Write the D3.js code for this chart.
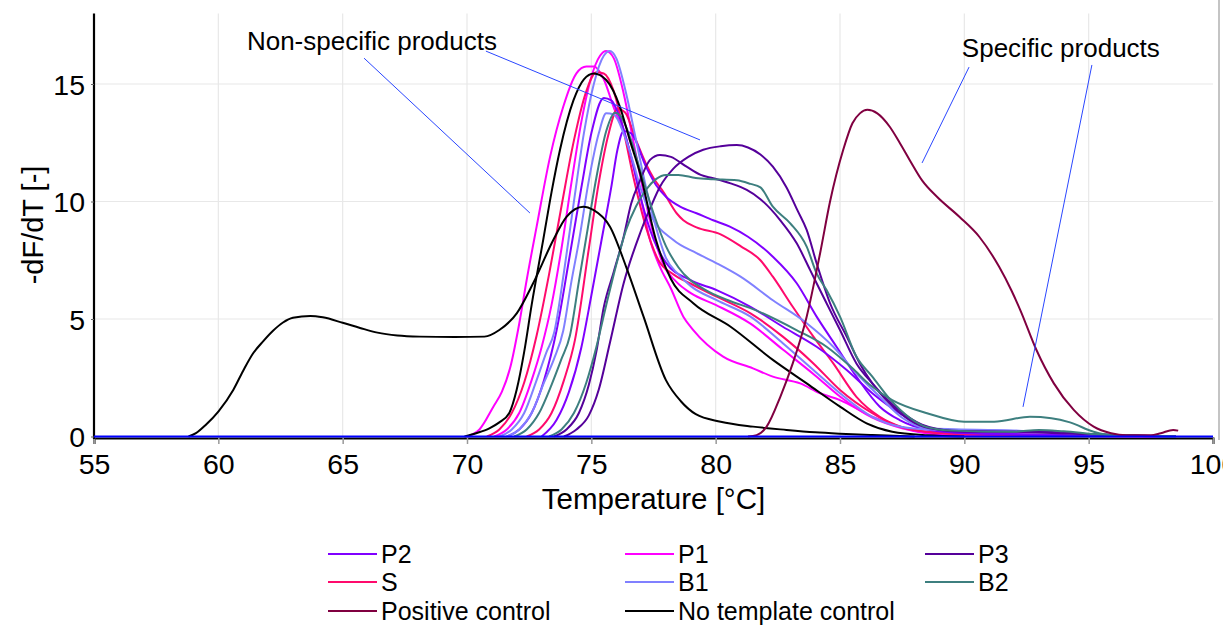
<!DOCTYPE html>
<html><head><meta charset="utf-8">
<script src="https://cdn.jsdelivr.net/npm/d3@7"></script>
<style>
body{margin:0;background:#fff;overflow:hidden;}
text{font-family:Arial,"Liberation Sans",sans-serif;fill:#000;}
</style></head><body>
<svg id="chart" width="1223" height="626"></svg>
<script>
// ---------- data ----------
const xTicks = [55,60,65,70,75,80,85,90,95,100];
const yTicks = [0,5,10,15];
const xTitle = "Temperature [°C]";
const yTitle = "-dF/dT [-]";

const legendLabels = ["P2","P1","P3","S","B1","B2","Positive control","No template control"];
const legendColors = ["#8000ff","#ff00ff","#55009a","#ff0a6c","#8080ff","#3d7f7f","#800040","#000000"];

// runs: [temperature °C, -dF/dT]
const P1_run1 = [[70.0,0],[70.5,0.3],[71.06,1.27],[71.4,1.9],[71.73,2.9],[72.1,4.8],[72.4,6.66],[72.8,8.93],[73.34,11.9],[73.87,14.03],[74.4,15.45],[74.8,15.74],[75.1,15.74],[75.5,15.2],[75.9,14.0],[76.42,12.6],[76.96,10.3],[77.36,8.36],[77.76,7.22],[78.2,6.3],[78.7,5.1],[79.1,4.53],[80.3,3.4],[81.5,2.9],[82.3,2.55],[83.4,2.26],[84.2,1.84],[85.0,1.55],[86.3,0.84],[87.4,0.42],[88.5,0.15],[90,0.05],[98.5,0]];
const P1_run2 = [[71.1,0],[71.6,0.3],[72.1,1.0],[72.6,2.4],[73.0,3.8],[73.4,5.6],[73.8,8.0],[74.2,10.8],[74.6,13.4],[75.0,15.3],[75.35,16.2],[75.6,16.4],[75.9,16.1],[76.3,14.6],[76.7,12.5],[77.1,10.4],[77.5,8.6],[77.9,7.3],[78.4,6.6],[79.0,6.1],[80.0,5.6],[81.4,4.8],[82.7,3.7],[84.0,2.6],[85.0,1.7],[86.3,0.8],[87.5,0.35],[89,0.1],[98.5,0]];
const S_run1 = [[70.8,0],[71.3,0.3],[71.8,1.0],[72.3,2.3],[72.8,4.3],[73.3,6.9],[73.8,9.8],[74.3,12.6],[74.8,14.7],[75.2,15.5],[75.5,15.45],[75.9,14.7],[76.3,13.0],[76.7,11.0],[77.2,8.9],[77.7,7.5],[78.3,6.9],[79.0,6.5],[80.04,5.95],[81.4,5.24],[82.7,4.25],[83.93,3.11],[85.0,1.98],[86.3,0.99],[87.3,0.45],[88.5,0.2],[90,0.1],[95,0.05],[98.5,0]];
const S_run2 = [[72.4,0],[72.9,0.3],[73.4,1.0],[73.9,2.4],[74.34,4.1],[74.9,8.0],[75.3,10.8],[75.7,12.9],[76.05,13.95],[76.35,13.8],[76.8,12.6],[77.2,11.6],[77.5,11.0],[77.9,10.4],[78.43,9.5],[78.7,9.2],[79.23,8.9],[80.2,8.6],[81.0,8.1],[81.8,7.5],[82.3,6.8],[83.1,5.52],[83.93,4.25],[84.73,3.11],[85.66,1.69],[86.6,0.84],[87.5,0.4],[88.5,0.2],[90,0.1],[95,0.05],[98.5,0]];
const P2_run1 = [[71.6,0],[72.1,0.3],[72.6,1.0],[73.1,2.4],[73.6,4.5],[74.1,7.5],[74.6,10.6],[75.0,12.9],[75.5,14.4],[75.8,14.3],[76.2,13.4],[76.6,11.9],[77.0,10.1],[77.5,8.4],[78.0,7.4],[78.97,6.66],[80.04,6.23],[81.4,5.52],[82.7,4.67],[84.06,3.82],[85.27,2.83],[86.3,1.84],[87.4,0.99],[88.5,0.4],[90,0.15],[95,0.05],[98.5,0]];
const P2_run2 = [[73.0,0],[73.6,0.7],[74.1,1.9],[74.6,3.8],[75.0,6.0],[75.4,8.3],[75.8,10.6],[76.05,12.2],[76.3,13.0],[76.6,12.9],[77.2,11.48],[77.6,10.7],[78.0,10.2],[78.57,9.78],[79.23,9.5],[79.9,9.2],[80.57,8.93],[81.3,8.5],[82.3,7.65],[83.26,6.52],[84.06,5.1],[84.86,3.82],[85.66,2.55],[86.6,1.27],[87.4,0.7],[88.5,0.3],[90,0.15],[95,0.05],[98.5,0]];
const B1_run1 = [[71.3,0],[71.8,0.3],[72.3,1.0],[72.8,2.4],[73.2,3.6],[73.5,4.4],[73.9,7.0],[74.3,10.0],[74.7,12.9],[75.1,15.0],[75.5,16.2],[75.75,16.4],[76.0,16.1],[76.4,14.6],[76.8,12.6],[77.2,10.6],[77.6,8.9],[78.0,7.6],[78.5,6.9],[79.0,6.4],[80.04,5.8],[81.4,5.1],[82.7,3.97],[83.93,2.83],[85.0,1.84],[86.3,0.84],[87.5,0.4],[88.5,0.3],[92,0.25],[95,0.1],[98.5,0]];
const B1_run2 = [[71.6,0],[72.1,0.3],[72.6,1.0],[73.1,2.3],[73.5,3.3],[73.87,4.5],[74.2,6.6],[74.5,8.3],[74.9,10.9],[75.3,12.9],[75.6,13.75],[75.9,13.7],[76.3,12.9],[76.7,11.6],[77.0,10.5],[77.36,9.5],[78.3,8.36],[79.23,7.8],[80.04,7.37],[81.0,6.8],[82.3,5.8],[83.66,4.82],[84.73,3.82],[85.66,2.69],[86.6,1.69],[87.5,0.8],[88.5,0.35],[92,0.25],[95,0.1],[98.5,0]];
const P3_run1 = [[73.5,0],[74.0,0.3],[74.5,1.0],[74.9,2.2],[75.2,3.6],[75.5,5.5],[75.9,7.0],[76.3,8.5],[76.6,9.9],[76.96,10.9],[77.36,11.77],[77.76,11.98],[78.2,11.9],[78.83,11.48],[79.4,11.13],[79.9,10.99],[80.6,10.77],[81.25,10.49],[81.8,10.1],[82.6,9.2],[83.26,8.22],[83.8,7.08],[84.46,5.67],[85.0,4.53],[85.66,3.11],[86.3,2.26],[87.4,1.1],[88.3,0.5],[89.5,0.25],[92,0.2],[95,0.1],[98.5,0]];
const P3_run2 = [[73.9,0],[74.4,0.3],[74.9,0.9],[75.3,2.0],[75.75,4.0],[76.3,6.52],[76.96,8.65],[77.4,9.8],[77.76,10.63],[78.3,11.4],[78.9,11.9],[79.5,12.2],[80.2,12.35],[80.85,12.4],[81.3,12.3],[81.8,12.0],[82.3,11.48],[82.85,10.6],[83.3,9.6],[83.66,8.79],[84.06,7.37],[84.6,5.67],[85.27,4.25],[85.8,3.1],[86.3,2.26],[87.0,1.4],[87.8,0.7],[88.6,0.35],[90,0.2],[93,0.2],[95,0.1],[98.5,0]];
const B2_run1 = [[71.9,0],[72.4,0.3],[72.9,1.0],[73.4,2.2],[73.8,3.3],[74.14,4.3],[74.5,6.6],[74.8,8.5],[75.2,11.0],[75.6,13.0],[75.95,13.78],[76.2,13.6],[76.6,12.6],[77.0,11.2],[77.5,9.5],[78.0,8.1],[78.5,7.2],[79.6,6.23],[80.5,5.8],[81.6,5.38],[83.25,4.53],[84.46,3.82],[85.5,2.9],[86.2,2.2],[87.1,1.55],[88.5,0.99],[90.0,0.63],[91.2,0.63],[92.64,0.84],[93.5,0.78],[94.25,0.6],[95.2,0.2],[95.9,0.05],[98.5,0]];
const B2_run2 = [[73.3,0],[73.8,0.3],[74.3,1.0],[74.8,2.3],[75.2,3.8],[75.6,5.6],[76.0,7.3],[76.4,8.8],[76.8,9.8],[77.2,10.5],[77.6,10.95],[78.0,11.13],[78.5,11.13],[79.2,11.0],[79.9,10.95],[80.85,10.9],[81.4,10.75],[81.8,10.6],[82.3,9.78],[83.0,9.07],[83.66,8.08],[84.06,6.94],[84.46,6.23],[85.0,5.1],[85.66,3.4],[86.3,2.55],[87.0,1.6],[87.8,0.8],[88.5,0.4],[89.5,0.25],[92,0.2],[93,0.28],[94,0.22],[95.5,0.08],[98.5,0]];
const PC_run1 = [[81.3,0],[81.65,0.06],[82.05,0.42],[82.6,1.69],[83.1,3.11],[83.66,5.1],[84.2,7.8],[84.6,10.0],[85.13,12.2],[85.5,13.33],[85.8,13.75],[86.1,13.9],[86.5,13.75],[87.0,13.18],[87.4,12.5],[87.8,11.77],[88.3,10.9],[88.9,10.2],[89.8,9.35],[90.6,8.5],[91.4,7.22],[91.9,6.2],[92.25,5.38],[92.9,3.68],[93.6,2.26],[94.4,1.13],[95.2,0.42],[95.9,0.14],[96.5,0.05],[97.5,0.05],[97.9,0.14],[98.4,0.28],[98.6,0.25]];
const NTC_run1 = [[58.8,0],[59.1,0.14],[59.5,0.5],[60.0,1.06],[60.6,1.98],[61.0,2.8],[61.4,3.54],[61.8,4.05],[62.2,4.5],[62.6,4.85],[63.0,5.05],[63.7,5.13],[64.2,5.07],[65.0,4.84],[65.7,4.62],[66.4,4.42],[67.2,4.3],[68.1,4.25],[69.5,4.23],[70.7,4.25],[71.3,4.53],[72.0,5.24],[72.66,6.52],[73.47,8.36],[74.0,9.35],[74.68,9.78],[75.08,9.64],[75.75,8.93],[76.4,7.22],[77.1,5.1],[78.0,2.4],[78.6,1.5],[79.2,0.95],[80.2,0.63],[81.5,0.42],[82.85,0.28],[84,0.18],[85,0.12],[86.3,0.06],[88,0]];
const NTC_run2 = [[69.9,0],[70.4,0.15],[70.9,0.35],[71.3,0.6],[71.7,1.0],[72.0,2.0],[72.3,3.6],[72.6,5.6],[73.07,8.4],[73.4,10.4],[73.74,12.2],[74.28,14.3],[74.7,15.2],[75.1,15.45],[75.6,15.17],[76.15,14.03],[76.55,12.6],[76.96,11.2],[77.6,8.36],[78.2,6.7],[79.1,5.67],[80.6,4.67],[82.3,3.26],[83.66,2.26],[85.0,1.27],[86.07,0.56],[87.1,0.2],[88.5,0.05],[90,0]];
const baselineRun = [[55,0],[100,0]];

// annotations (data coordinates)
const annotTexts = [
  {text:"Non-specific products", T:61.15, v:16.45},
  {text:"Specific products", T:89.9, v:16.15}
];
const annotLines = [
  [[65.86,16.1],[72.53,9.51]],
  [[70.76,16.4],[79.37,12.62]],
  [[90.19,15.72],[88.30,11.64]],
  [[95.13,15.81],[92.36,1.26]]
];

// series -> runs (drawing order)
const seriesRuns = [
  {label:"P1", runs:[P1_run1,P1_run2]},
  {label:"S", runs:[S_run1,S_run2]},
  {label:"P2", runs:[P2_run1,P2_run2]},
  {label:"B1", runs:[B1_run1,B1_run2]},
  {label:"P3", runs:[P3_run1,P3_run2]},
  {label:"B2", runs:[B2_run1,B2_run2]},
  {label:"No template control", runs:[NTC_run1,NTC_run2]},
  {label:"Positive control", runs:[PC_run1]}
];

// ---------- drawing ----------
const svg = d3.select("#chart");
const colorOf = d3.scaleOrdinal(legendLabels, legendColors);
const x = d3.scaleLinear([55,100],[94,1213]);
const y = d3.scaleLinear([0,18],[436.5,13.5]);

// frame line on right
svg.append("line").attr("x1",1219).attr("x2",1219).attr("y1",0).attr("y2",440)
  .attr("stroke","#c4c4c4").attr("stroke-width",2);

// grid
const grid = svg.append("g");
grid.selectAll(".gx").data(xTicks.filter(d=>d>55 && d<100)).join("line")
  .attr("x1",d=>x(d)).attr("x2",d=>x(d)).attr("y1",y(18)).attr("y2",y(0))
  .attr("stroke","#e8e8e8").attr("stroke-width",1.2);
grid.selectAll(".gy").data(yTicks.filter(d=>d>0)).join("line")
  .attr("x1",x(55)).attr("x2",x(100)).attr("y1",d=>y(d)).attr("y2",d=>y(d))
  .attr("stroke","#e8e8e8").attr("stroke-width",1.2);

// x axis
const xAxis = svg.append("g").attr("transform",`translate(0,${y(0)+1.5})`)
  .call(d3.axisBottom(x).tickValues(xTicks).tickSize(6).tickPadding(10).tickFormat(d3.format("d")));
xAxis.select(".domain").attr("stroke","#000").attr("stroke-width",2);
xAxis.selectAll(".tick line").attr("stroke","#999").attr("stroke-width",1.5);
xAxis.selectAll(".tick text").attr("font-size",28.5).attr("font-family","Arial, 'Liberation Sans', sans-serif").attr("fill","#000").attr("dy","0.71em");

// y axis
const yAxis = svg.append("g").attr("transform",`translate(${x(55)},0)`)
  .call(d3.axisLeft(y).tickValues(yTicks).tickSize(3).tickPadding(6).tickFormat(d3.format("d")));
yAxis.select(".domain").attr("stroke","#000").attr("stroke-width",2.2).attr("d",`M0,${y(18)}V${y(0)+2.5}`);
yAxis.selectAll(".tick line").attr("stroke","#666");
yAxis.selectAll(".tick text").attr("font-size",28.5).attr("font-family","Arial, 'Liberation Sans', sans-serif").attr("fill","#000").attr("dy","0.36em");

// titles
svg.append("text").attr("x",(x(55)+x(100))/2).attr("y",509).attr("text-anchor","middle")
  .attr("font-size",29.5).text(xTitle);
svg.append("text").attr("transform",`translate(43,${(y(0)+y(18))/2}) rotate(-90)`)
  .attr("text-anchor","middle").attr("font-size",29).text(yTitle);

// curves
const line = d3.line().x(d=>x(d[0])).y(d=>y(d[1])).curve(d3.curveMonotoneX);
const curves = svg.append("g").attr("fill","none").attr("stroke-width",2).attr("stroke-linejoin","round");
seriesRuns.forEach(s=>{
  curves.selectAll(null).data(s.runs).join("path")
    .attr("d",line).attr("stroke",colorOf(s.label));
});
curves.append("path").datum(baselineRun).attr("d",line).attr("stroke","#0000ff").attr("stroke-width",2.2);

// annotations
const ann = svg.append("g");
ann.selectAll("line").data(annotLines).join("line")
  .attr("x1",d=>x(d[0][0])).attr("y1",d=>y(d[0][1]))
  .attr("x2",d=>x(d[1][0])).attr("y2",d=>y(d[1][1]))
  .attr("stroke","#2a46ff").attr("stroke-width",1);
ann.selectAll("text").data(annotTexts).join("text")
  .attr("x",d=>x(d.T)).attr("y",d=>y(d.v)).attr("font-size",26).text(d=>d.text);

// legend
const colX = [328,625,925];
const rowY = [554,582,611];
const leg = svg.append("g");
legendLabels.forEach((lab,i)=>{
  const cx = colX[i%3], cy = rowY[Math.floor(i/3)];
  leg.append("line").attr("x1",cx).attr("x2",cx+49).attr("y1",cy).attr("y2",cy)
    .attr("stroke",legendColors[i]).attr("stroke-width",2);
  leg.append("text").attr("x",cx+53).attr("y",cy+9).attr("font-size",25).text(lab);
});
</script>
</body></html>
